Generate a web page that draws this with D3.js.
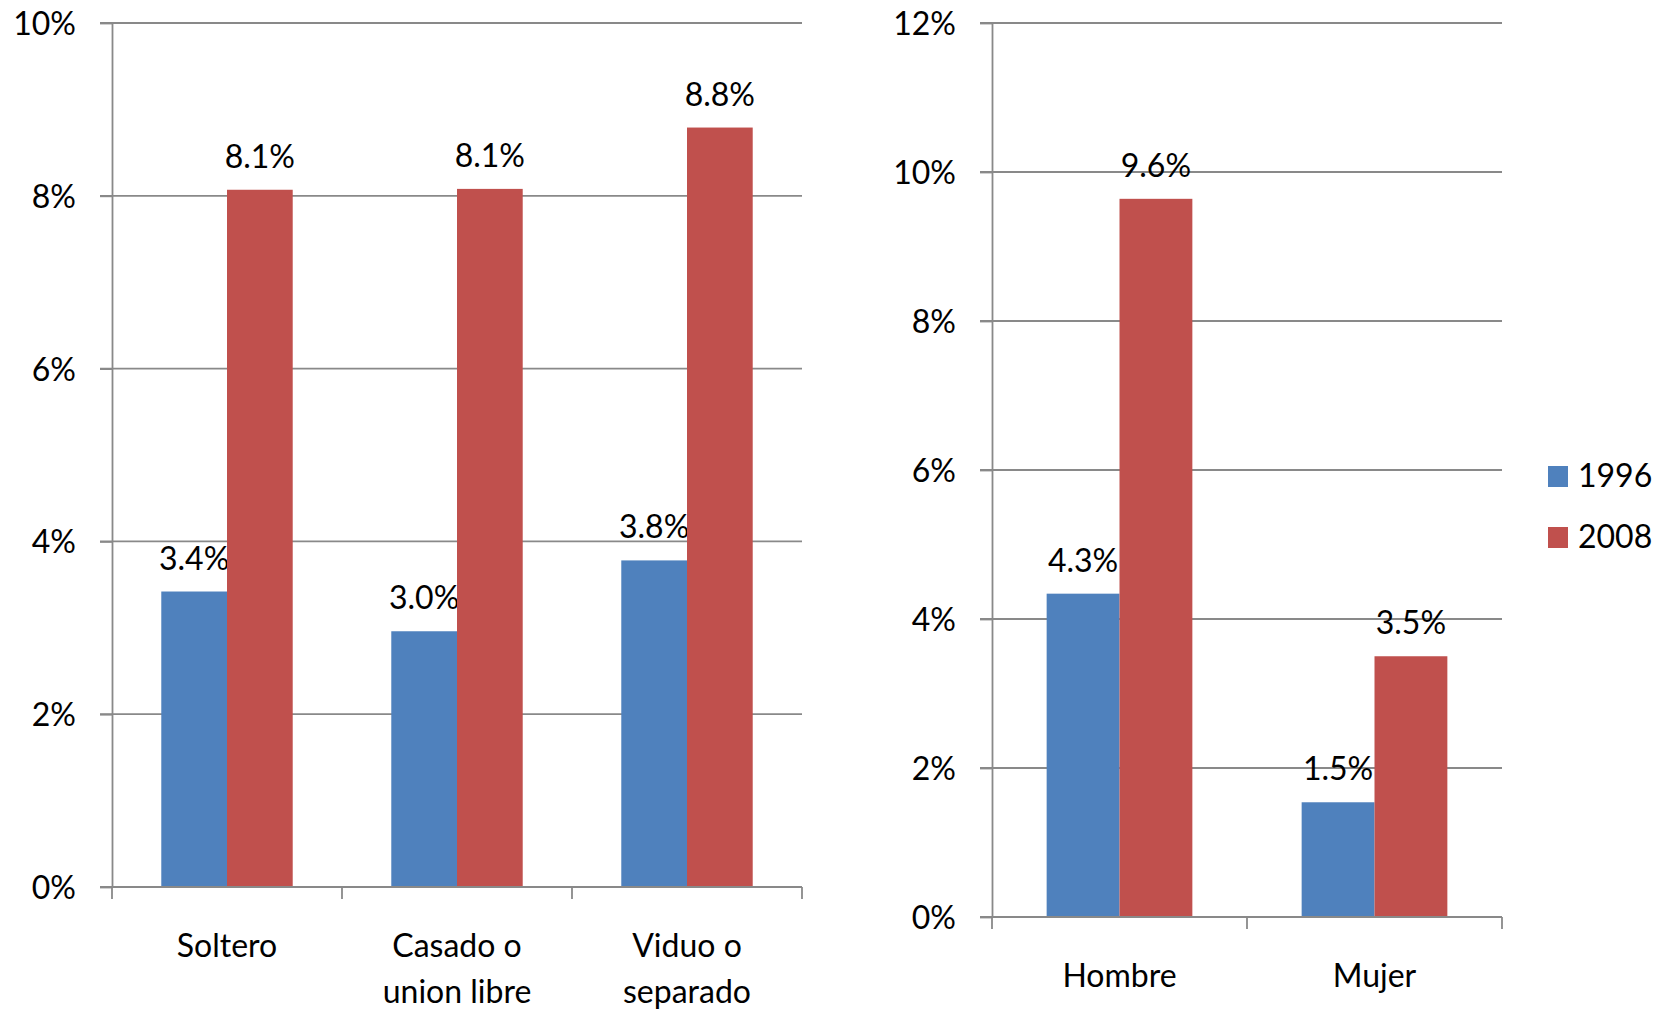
<!DOCTYPE html>
<html><head><meta charset="utf-8">
<script src="https://cdn.jsdelivr.net/npm/d3@7"></script>
<style>
body{margin:0;background:#fff;}
svg text{font-family:Lato,"Open Sans",sans-serif;fill:#000;}
</style></head>
<body><svg id="c" width="1670" height="1011"></svg>
<script>
// Left panel: estado civil
const catsLeft = [["Soltero"],["Casado o","union libre"],["Viduo o","separado"]];
const left1996 = [3.42, 2.96, 3.78];
const left2008 = [8.07, 8.08, 8.79];
const leftTicks = [0,2,4,6,8,10];
// Right panel: sexo
const catsRight = [["Hombre"],["Mujer"]];
const right1996 = [4.34, 1.54];
const right2008 = [9.64, 3.50];
const rightTicks = [0,2,4,6,8,10,12];
const seriesNames = ["1996","2008"];
const colors = ["#4F81BD","#C0504D"];

const svg = d3.select("#c");
const FS = 32;

function panel(cfg){
  const g = svg.append("g");
  const y = d3.scaleLinear().domain([0, cfg.max]).range([cfg.y0, cfg.y1]);
  const x = d3.scaleBand().domain(d3.range(cfg.cats.length)).range([cfg.x0, cfg.x1]).paddingInner(0).paddingOuter(0);
  // gridlines
  g.selectAll(".grid").data(cfg.ticks.filter(t=>t>0)).enter().append("line")
    .attr("x1", cfg.x0-12).attr("x2", cfg.x1)
    .attr("y1", d=>y(d)).attr("y2", d=>y(d))
    .attr("stroke","#898989").attr("stroke-width",1.8);
  // bars (Excel gap width 150%)
  const step = x.bandwidth();
  const bw = step/(2+1.5);
  const off = (step-2*bw)/2;
  const sets = [cfg.s1, cfg.s2];
  sets.forEach((vals, si)=>{
    g.selectAll(".b"+si).data(vals).enter().append("rect")
      .attr("x",(d,i)=>x(i)+off+si*bw)
      .attr("y",d=>y(d)).attr("width",bw).attr("height",d=>y(0)-y(d))
      .attr("fill",colors[si]);
    g.selectAll(".l"+si).data(vals).enter().append("text")
      .attr("x",(d,i)=>x(i)+off+si*bw+bw/2)
      .attr("y",d=>y(d)-22).attr("text-anchor","middle")
      .attr("font-size",FS).text(d=>d3.format(".1f")(d)+"%");
  });
  // y axis
  const ax = d3.axisLeft(y).tickValues(cfg.ticks).tickSizeInner(12).tickSizeOuter(0).tickPadding(24)
    .tickFormat(d=>d+"%");
  const ag = g.append("g").attr("transform",`translate(${cfg.x0},0)`).call(ax);
  ag.selectAll("path,line").attr("stroke","#898989").attr("stroke-width",1.8);
  ag.selectAll("text").attr("font-size",FS).attr("font-family","Lato").attr("fill","#000").attr("dy","0.36em");
  // x axis baseline
  g.append("line").attr("x1",cfg.x0-12).attr("x2",cfg.x1).attr("y1",y(0)).attr("y2",y(0))
    .attr("stroke","#898989").attr("stroke-width",1.8);
  // category ticks at boundaries
  const bounds = d3.range(cfg.cats.length+1).map(i=>cfg.x0+i*step);
  g.selectAll(".ct").data(bounds).enter().append("line")
    .attr("x1",d=>d).attr("x2",d=>d).attr("y1",y(0)).attr("y2",y(0)+12)
    .attr("stroke","#898989").attr("stroke-width",1.8);
  // category labels
  cfg.cats.forEach((lines,i)=>{
    const t = g.append("text").attr("text-anchor","middle").attr("font-size",FS)
      .attr("x", x(i)+step/2).attr("y", cfg.labelY);
    lines.forEach((ln,k)=>t.append("tspan").attr("x",x(i)+step/2).attr("dy",k===0?0:46).text(ln));
  });
}

panel({cats:catsLeft, s1:left1996, s2:left2008, ticks:leftTicks, max:10,
  x0:112, x1:802, y0:887, y1:23, labelY:957});
panel({cats:catsRight, s1:right1996, s2:right2008, ticks:rightTicks, max:12,
  x0:992, x1:1502, y0:917, y1:23, labelY:987});

// legend
const lg = svg.append("g");
seriesNames.forEach((n,i)=>{
  lg.append("rect").attr("x",1548).attr("y",466+i*61).attr("width",20).attr("height",21).attr("fill",colors[i]);
  lg.append("text").attr("x",1578).attr("y",487+i*61).attr("font-size",FS).text(n);
});
</script></body></html>
